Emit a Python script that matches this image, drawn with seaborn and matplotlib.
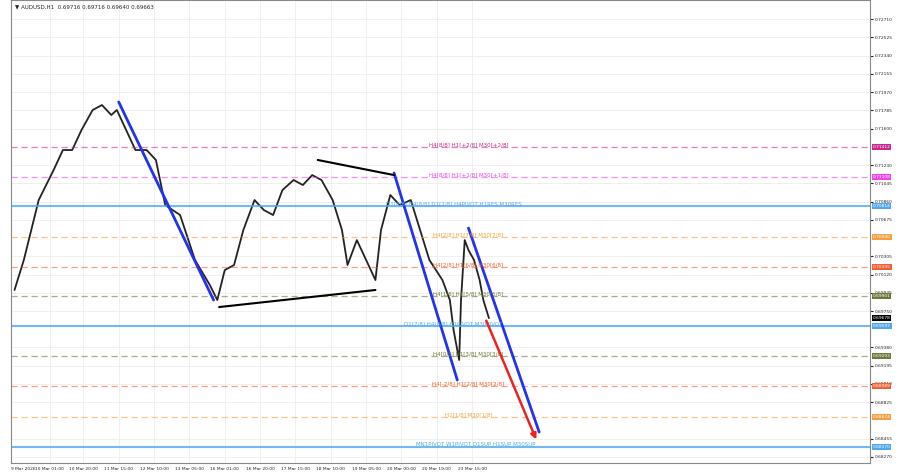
import matplotlib
matplotlib.use("Agg")
import matplotlib.pyplot as plt
import seaborn as sns
import pandas as pd

sns.set_style("white")
plt.rcParams['font.family'] = ['DejaVu Sans']

bars = [2,7,15,23,28,33,38,44,49,54,57,62,67,73,78,83,91,99,107,111,115,120,125,131,136,141,146,152,157,162,167,173,178,181,186,191,196,199,204,209,215,220,225,232,236,238,241,242,244,246,249,252,254,257]
close = [0.69963,0.70267,0.70875,0.71179,0.71382,0.71382,0.71585,0.71788,0.71838,0.71737,0.71788,0.71585,0.71382,0.71382,0.71281,0.70824,0.70723,0.70267,0.70013,0.69861,0.70165,0.70216,0.70571,0.70875,0.70774,0.70723,0.70976,0.71078,0.71027,0.71128,0.71078,0.70875,0.70571,0.70216,0.70469,0.70267,0.70064,0.70571,0.70926,0.70824,0.70875,0.70571,0.70267,0.70064,0.69861,0.69557,0.69253,0.69861,0.70469,0.70368,0.70267,0.70064,0.69861,0.69678]

levels = [0.71412,0.71108,0.70814,0.70500,0.70195,0.69901,0.69597,0.69293,0.68989,0.68674,0.68370]
level_labels = ["H4[8/8] H1[+2/8] M30[+2/8]","H4[8/8] H1[+1/8] M30[+1/8]",
 "D1[8/8] H4[8/8] D1[2/8] H4PIVOT H1RES M30RES","H4[2/8] H1[7/8] M30[7/8]",
 "H4[2/8] H1[6/8] M30[6/8]","H4[1/8] H1[5/8] M30[5/8]","D1[7/8] H4[0/8] H1PIVOT M30PIVOT",
 "H4[0/8] H1[3/8] M30[3/8]","H4[-2/8] H1[2/8] M30[2/8]","H1[1/8] M30[1/8]",
 "MN1PIVOT W1PIVOT D1SUP H1SUP M30SUP"]
level_colors = ["#cc2a8a","#ee44ee","#4fa8f0","#f5a040","#f06030","#6b7a3a","#4fa8f0","#6b7a3a","#f06030","#f5a040","#4fa8f0"]
level_solid = [False,False,True,False,False,False,True,False,False,False,True]
label_x = [246,246,238,246,246,246,238,246,246,246,250]

blue_lines = [((58,0.71869),(109,0.69861)),((206,0.71149),(240,0.69050)),((246,0.70591),(284,0.68523))]
black_lines = [((112,0.69790),(196,0.69963)),((165,0.71281),(206,0.71128))]
red_arrow = ((255,0.69678),(283,0.68421))

xtick_pos = [0,21,39,58,77,96,115,134,153,172,191,210,229,248]
xtick_lab = ["9 Mar 2026","10 Mar 01:00","10 Mar 20:00","11 Mar 15:00","12 Mar 10:00","13 Mar 05:00",
 "16 Mar 01:00","16 Mar 20:00","17 Mar 15:00","18 Mar 10:00","19 Mar 05:00","20 Mar 00:00","20 Mar 19:00","23 Mar 15:00"]
ytick = [0.72710,0.72525,0.72340,0.72155,0.71970,0.71785,0.71600,0.71230,0.71045,0.70860,0.70675,
 0.70305,0.70120,0.69935,0.69750,0.69380,0.69195,0.69010,0.68825,0.68455,0.68270]

fig = plt.figure(figsize=(9,4.74), dpi=100)
ax = fig.add_axes([0.012,0.023,0.955,0.977])
df = pd.DataFrame({"bar":bars,"close":close})
sns.lineplot(data=df, x="bar", y="close", ax=ax, color="#222222", lw=1.3)
for lv,lab,c,s,lx in zip(levels,level_labels,level_colors,level_solid,label_x):
    ax.axhline(lv, color=c, lw=1.5 if s else 0.9, ls='-' if s else (0,(5,3)), alpha=0.8 if s else 0.6)
    ax.text(lx, lv, lab, color=c, fontsize=4, ha='center', va='bottom')
    ax.text(1.003, lv, f"{lv:.5f}", transform=ax.get_yaxis_transform(), fontsize=3.2, color='white',
            va='center', ha='left', bbox=dict(boxstyle='square,pad=0.15', fc=c, ec='none'), clip_on=False)
ax.text(1.003, close[-1], f"{close[-1]:.5f}", transform=ax.get_yaxis_transform(), fontsize=3.2, color='white',
        va='center', ha='left', bbox=dict(boxstyle='square,pad=0.15', fc='black', ec='none'), clip_on=False)
for (a,b) in blue_lines:
    ax.plot([a[0],b[0]],[a[1],b[1]], color="#2233ee", lw=2)
for (a,b) in black_lines:
    ax.plot([a[0],b[0]],[a[1],b[1]], color="black", lw=1.5)
ax.annotate("", xy=red_arrow[1], xytext=red_arrow[0], arrowprops=dict(arrowstyle='-|>', color='#ee2222', lw=1.8, mutation_scale=8))
ax.set_xlim(0,462); ax.set_ylim(0.68208,0.72903)
ax.yaxis.tick_right()
ax.set_yticks(ytick); ax.set_yticklabels([f"{v:.5f}" for v in ytick], fontsize=3.2)
ax.set_xticks(xtick_pos); ax.set_xticklabels(xtick_lab, fontsize=3.2)
ax.get_xticklabels()[0].set_ha('left')
ax.tick_params(length=2, pad=1)
ax.grid(True, color="#eeeeee", lw=0.6)
ax.set_xlabel(""); ax.set_ylabel("")
for s in ax.spines.values(): s.set_color("#888888"); s.set_linewidth(0.8)
ax.text(0.005,0.99,"▼ AUDUSD,H1  0.69716 0.69716 0.69640 0.69663", transform=ax.transAxes, fontsize=4, va='top')
fig.savefig("out.png", dpi=100)
